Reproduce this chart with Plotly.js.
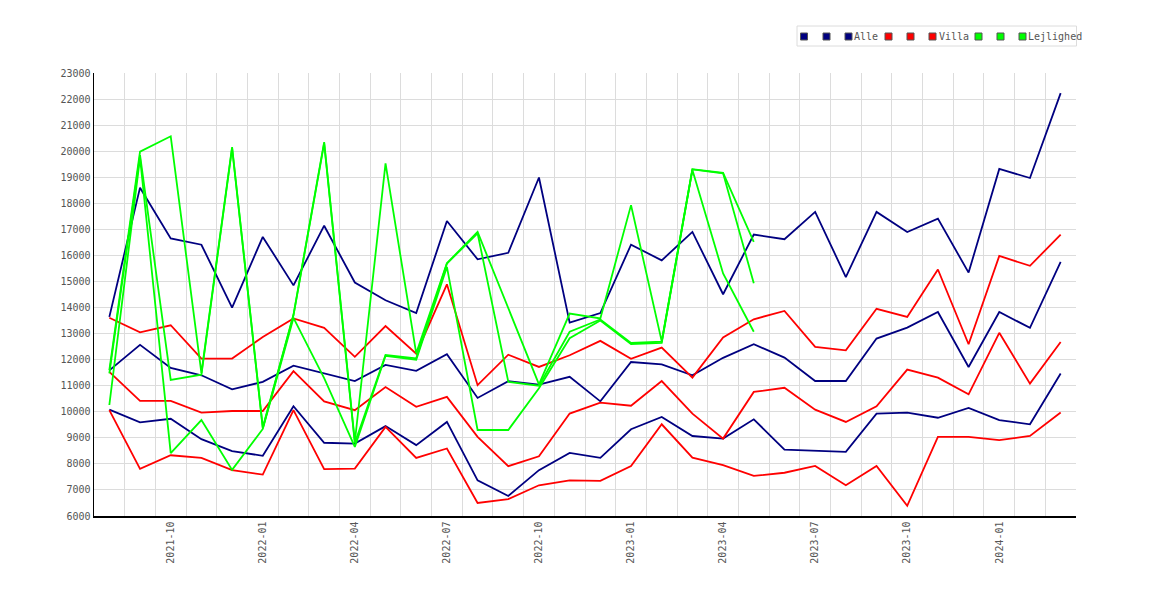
<!DOCTYPE html>
<html>
<head>
<meta charset="utf-8">
<script src="https://cdn.plot.ly/plotly-3.0.1.min.js"></script>
<style>
  body { margin: 0; background: #fff; }
  #chart { width: 1170px; height: 600px; }
</style>
</head>
<body>
<div id="chart"></div>
<script>
const months = [
  '2021-08', '2021-09', '2021-10', '2021-11', '2021-12',
  '2022-01', '2022-02', '2022-03', '2022-04', '2022-05', '2022-06',
  '2022-07', '2022-08', '2022-09', '2022-10', '2022-11', '2022-12',
  '2023-01', '2023-02', '2023-03', '2023-04', '2023-05', '2023-06',
  '2023-07', '2023-08', '2023-09', '2023-10', '2023-11', '2023-12',
  '2024-01', '2024-02', '2024-03'
];
// only every third month gets a label
const tickLabels = ['2021-10', '2022-01', '2022-04', '2022-07', '2022-10',
  '2023-01', '2023-04', '2023-07', '2023-10', '2024-01'];

// kr. per m2 - low / middle / high line per house type
const alleLow = [10080, 9590, 9730, 8950, 8490, 8310, 10210, 8810, 8780, 9450, 8720, 9610,
  7370, 6770, 7760, 8420, 8230, 9330, 9800, 9070, 8970, 9710, 8550, 8500,
  8460, 9930, 9970, 9770, 10150, 9680, 9520, 11470];
const alleMid = [11590, 12570, 11680, 11400, 10860, 11150, 11770, 11470, 11180, 11800, 11570, 12210,
  10530, 11170, 11040, 11340, 10400, 11910, 11820, 11400, 12070, 12590, 12080, 11180,
  11180, 12810, 13230, 13830, 11720, 13830, 13220, 15750];
const alleHigh = [13640, 18600, 16650, 16410, 14000, 16710, 14850, 17140, 14960, 14280, 13790, 17320,
  15850, 16100, 18990, 13420, 13790, 16410, 15810, 16900, 14510, 16800, 16620, 17670,
  15170, 17670, 16900, 17410, 15340, 19320, 18970, 22230];

const villaLow = [10060, 7810, 8330, 8230, 7760, 7590, 10060, 7800, 7820, 9420, 8230, 8590,
  6500, 6650, 7180, 7370, 7350, 7920, 9520, 8240, 7950, 7540, 7660, 7920,
  7180, 7920, 6390, 9040, 9040, 8910, 9070, 9970];
const villaMid = [11530, 10420, 10420, 9970, 10030, 10030, 11560, 10400, 10060, 10950, 10190, 10570,
  9040, 7910, 8290, 9930, 10350, 10230, 11180, 9930, 8970, 10760, 10920, 10080,
  9610, 10210, 11620, 11310, 10670, 13030, 11080, 12680];
const villaHigh = [13610, 13050, 13320, 12040, 12040, 12870, 13580, 13220, 12110, 13290, 12230, 14890,
  11020, 12190, 11720, 12170, 12720, 12030, 12460, 11310, 12850, 13550, 13870, 12490,
  12360, 13950, 13640, 15460, 12590, 15980, 15600, 16800];

// Lejlighed stops after 2023-05
const lejlLow = [10260, 19750, 8410, 9680, 7770, 9340, 13600, 11290, 8650, 12150, 12000, 15560,
  9300, 9300, 10900, 12820, 13500, 12600, 12640, 19280, 15310, 13070];
const lejlMid = [11470, 19850, 11220, 11420, 20120, 9370, 13700, 20300, 8800, 12180, 12050, 15690,
  16850, 11150, 11000, 13070, 13540, 12640, 12690, 19300, 19150, 14930];
const lejlHigh = [11600, 19980, 20570, 11480, 20160, 9400, 13720, 20350, 8850, 19530, 12240, 15700,
  16900, 13950, 11050, 13770, 13580, 17930, 12700, 19310, 19170, 16520];

const groups = [
  { name: 'Alle', color: '#000080', lines: [alleLow, alleMid, alleHigh] },
  { name: 'Villa', color: '#ff0000', lines: [villaLow, villaMid, villaHigh] },
  { name: 'Lejlighed', color: '#00ff00', lines: [lejlLow, lejlMid, lejlHigh] },
];

const idx = months.map((m, i) => i);

const traces = [];
for (let g of groups) {
  for (let vals of g.lines) {
    traces.push({
      x: idx.slice(0, vals.length),
      y: vals,
      type: 'scatter',
      mode: 'lines',
      line: { color: g.color, width: 1.8 },
      showlegend: false,
      hoverinfo: 'skip',
    });
  }
}

// plot box in pixels
const L = 94, R = 1076, T = 73, B = 516;
const px = x => (x - L) / (R - L);
const py = y => (B - y) / (B - T);

const font = { family: 'DejaVu Sans Mono, monospace', size: 10, color: '#555' };

// hand-made legend: three small squares per group, name after the third
const shapes = [{
  type: 'rect', xref: 'paper', yref: 'paper',
  x0: px(797), x1: px(1076.5), y0: py(46), y1: py(26),
  line: { color: '#dcdcdc', width: 1 }, fillcolor: '#fff',
}];
const annotations = [];
const markerX = [[804, 826.5, 848.5], [888.5, 910.5, 932.5], [978.5, 1000.5, 1022.5]];
const textX = [853, 938, 1027];
groups.forEach((g, gi) => {
  for (let mx of markerX[gi]) {
    shapes.push({
      type: 'rect', xref: 'paper', yref: 'paper',
      xsizemode: 'pixel', ysizemode: 'pixel',
      xanchor: px(mx), yanchor: py(36.5),
      x0: -3.5, x1: 3.5, y0: -3.5, y1: 3.5,
      fillcolor: g.color, line: { color: '#555', width: 1 },
    });
  }
  annotations.push({
    xref: 'paper', yref: 'paper', x: px(textX[gi]), y: py(36.5),
    xanchor: 'left', yanchor: 'middle', showarrow: false,
    text: g.name, font: font, borderpad: 0,
  });
});

const halfSteps = [];
for (let i = -0.5; i <= months.length - 0.5; i++) halfSteps.push(i);

const layout = {
  width: 1170,
  height: 600,
  margin: { l: L, r: 1170 - R, t: T, b: 600 - B },
  paper_bgcolor: '#fff',
  plot_bgcolor: '#fff',
  showlegend: false,
  xaxis: {
    range: [-0.5, months.length - 0.5],
    tickmode: 'array',
    tickvals: tickLabels.map(t => months.indexOf(t)),
    ticktext: tickLabels,
    tickangle: -90,
    tickfont: font,
    ticks: '',
    showgrid: false,
    minor: { tickmode: 'array', tickvals: halfSteps, showgrid: true, gridcolor: '#dcdcdc', gridwidth: 1, ticks: '' },
    zeroline: false,
    showline: true,
    linecolor: '#000',
    linewidth: 1.5,
  },
  yaxis: {
    range: [6000, 23000],
    dtick: 1000,
    tickformat: 'd',
    tickfont: font,
    ticks: '',
    showgrid: true,
    gridcolor: '#dcdcdc',
    gridwidth: 1,
    zeroline: false,
    showline: true,
    linecolor: '#000',
    linewidth: 1.5,
  },
  shapes: shapes,
  annotations: annotations,
};

Plotly.newPlot('chart', traces, layout, { displayModeBar: false, staticPlot: true });
</script>
</body>
</html>
